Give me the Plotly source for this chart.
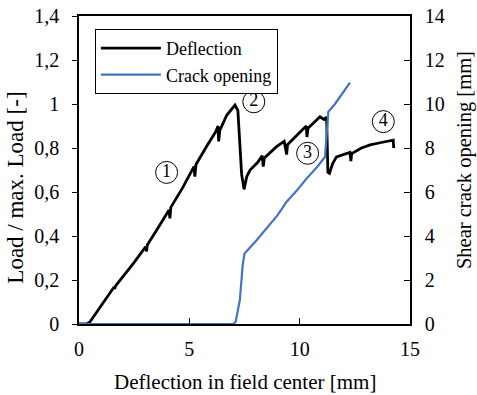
import plotly.graph_objects as go

# Load / max. load vs deflection (black)
defl_x = [0, 0.35, 0.5, 0.7, 1.2, 1.59, 1.62, 1.65, 2.5, 3.02, 3.06, 3.1, 3.6, 4.08, 4.12, 4.16,
          4.7, 5.21, 5.25, 5.3, 5.8, 6.2, 6.3, 6.33, 6.38, 6.7, 7.07, 7.2, 7.37, 7.42, 7.48,
          7.6, 7.75, 8.1, 8.3, 8.35, 8.4, 8.95, 9.3, 9.41, 9.45, 10.0, 10.3, 10.33, 10.38,
          10.92, 11.1, 11.22, 11.28, 11.35, 11.5, 11.67, 12.0, 12.28, 12.32, 12.36, 12.8,
          13.19, 13.7, 14.24, 14.26]
defl_y = [0, 0.0, 0.01, 0.04, 0.11, 0.168, 0.16, 0.172, 0.28, 0.351, 0.33, 0.36, 0.44, 0.518, 0.48, 0.53,
          0.62, 0.715, 0.67, 0.725, 0.81, 0.875, 0.9, 0.83, 0.88, 0.95, 0.995, 0.97, 0.68, 0.64, 0.612,
          0.67, 0.70, 0.735, 0.765, 0.715, 0.755, 0.806, 0.83, 0.77, 0.815, 0.87, 0.9, 0.85, 0.89,
          0.942, 0.93, 0.94, 0.69, 0.685, 0.73, 0.76, 0.77, 0.78, 0.74, 0.775, 0.80,
          0.814, 0.825, 0.836, 0.80]

# Shear crack opening vs deflection (blue, right axis)
crack_x = [0, 7.0, 7.1, 7.29, 7.42, 7.5, 8.0, 8.5, 9.0, 9.41, 9.9, 10.32, 10.8, 11.15,
           11.2, 11.25, 11.3, 11.6, 11.83, 12.05, 12.28]
crack_y = [0, 0, 0.1, 1.1, 2.7, 3.2, 3.75, 4.35, 4.95, 5.56, 6.1, 6.62, 7.15, 7.6,
           8.2, 9.2, 9.65, 10.0, 10.33, 10.64, 10.97]

# Phase markers
phase_labels = ["1", "2", "3", "4"]
phase_x = [3.97, 7.92, 10.36, 13.79]
phase_y = [0.689, 1.01, 0.776, 0.92]

x_ticks = [0, 5, 10, 15]
y_ticks = [0, 0.2, 0.4, 0.6, 0.8, 1.0, 1.2, 1.4]
y_ticktext = ["0", "0,2", "0,4", "0,6", "0,8", "1", "1,2", "1,4"]
y2_ticks = [0, 2, 4, 6, 8, 10, 12, 14]

FONT = "Liberation Serif"
TICKF = dict(family=FONT, size=20, color="black")
TITLEF = dict(family=FONT, size=21, color="black")

fig = go.Figure()
fig.add_trace(go.Scatter(x=defl_x, y=defl_y, mode="lines", name="Deflection",
                         line=dict(color="black", width=2.8), legendgroup="a"))
fig.add_trace(go.Scatter(x=crack_x, y=crack_y, mode="lines", name="Crack opening",
                         line=dict(color="#4472C4", width=2.2), yaxis="y2", legendgroup="b"))
fig.add_trace(go.Scatter(x=phase_x, y=phase_y, mode="markers+text", text=phase_labels,
                         textposition="middle center", showlegend=False, hoverinfo="skip",
                         textfont=dict(family=FONT, size=18, color="black"),
                         marker=dict(symbol="circle-open", size=22,
                                     line=dict(color="black", width=1), color="black")))

fig.update_layout(
    template="none",
    width=477, height=395,
    margin=dict(l=79, r=67, t=16, b=71),
    paper_bgcolor="white", plot_bgcolor="white",
    font=dict(family=FONT, size=20, color="black"),
    showlegend=True,
    legend=dict(x=0.048, y=0.958, xanchor="left", yanchor="top",
                bordercolor="black", borderwidth=1, bgcolor="white", itemwidth=60,
                font=dict(family=FONT, size=18, color="black"), tracegroupgap=0),
    xaxis=dict(range=[0, 15], tickvals=x_ticks, ticks="inside", ticklen=6, tickcolor="black",
               showline=True, linecolor="black", linewidth=1.5, mirror=True, tickfont=TICKF,
               ticklabelstandoff=6, showgrid=False, zeroline=False),
    yaxis=dict(range=[0, 1.4], tickvals=y_ticks, ticktext=y_ticktext, ticks="outside", ticklen=5,
               tickcolor="black", tickfont=TICKF, ticklabelstandoff=9,
               showline=True, linecolor="black", linewidth=1.5,
               showgrid=False, zeroline=False),
    yaxis2=dict(range=[0, 14], tickvals=y2_ticks, ticks="inside", ticklen=6, tickcolor="black",
                tickfont=TICKF, ticklabelstandoff=9, overlaying="y", side="right",
                showline=True, linecolor="black", linewidth=1.5,
                showgrid=False, zeroline=False),
    annotations=[
        dict(text="Deflection in field center [mm]", xref="paper", yref="paper",
             x=0.5, y=-0.188, xanchor="center", yanchor="middle", showarrow=False, font=TITLEF),
        dict(text="Load / max. Load [-]", xref="paper", yref="paper", textangle=-90,
             x=-0.193, y=0.443, xanchor="center", yanchor="middle", showarrow=False,
             font=dict(family=FONT, size=23, color="black")),
        dict(text="Shear crack opening [mm]", xref="paper", yref="paper", textangle=-90,
             x=1.163, y=0.532, xanchor="center", yanchor="middle", showarrow=False,
             font=dict(family=FONT, size=20.5, color="black")),
    ],
)

fig.write_html("out.html")
